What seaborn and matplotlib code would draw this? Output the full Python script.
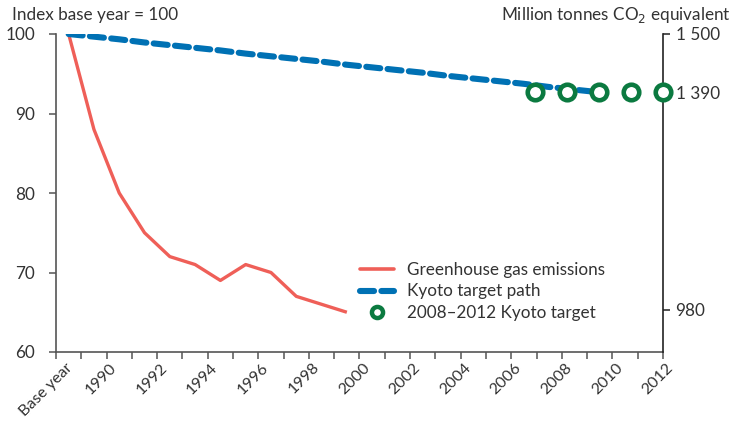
import numpy as np
import pandas as pd
import matplotlib
matplotlib.use("Agg")
import matplotlib.pyplot as plt
import matplotlib.transforms as mtransforms
from matplotlib.lines import Line2D
import seaborn as sns

# categories on the main x axis (one slot per year)
categories = ["Base year"] + [str(y) for y in range(1990, 2013)]
tick_labels = ["Base year"] + [str(y) for y in range(1990, 2013, 2)]

# greenhouse gas emissions, index base year = 100 (Base year .. 2000)
emissions = [100, 88, 80, 75, 72, 71, 69, 71, 70, 67, 66, 65]

# Kyoto target path, million tonnes CO2 equivalent (Base year .. 2010)
kyoto_path = [1500, 1495, 1490, 1484, 1479, 1474, 1469, 1463, 1458, 1453, 1448,
              1442, 1437, 1432, 1427, 1421, 1416, 1411, 1406, 1400, 1395, 1390]

# 2008-2012 Kyoto target
target_years = [2008, 2009, 2010, 2011, 2012]
target_values = [1390, 1390, 1390, 1390, 1390]

right_ticks = [980, 1390, 1500]
right_labels = ["980", "1 390", "1 500"]

RED = "#EF5F58"
BLUE = "#0071B4"
GREEN = "#0B7A40"
TXT = "#333333"
FS = 12.3

sns.set_theme(style="ticks")
plt.rcParams["font.family"] = ["Lato", "DejaVu Sans"]
plt.rcParams["text.color"] = TXT

df_em = pd.DataFrame({"pos": np.arange(len(emissions)), "value": emissions})
df_ky = pd.DataFrame({"pos": np.arange(len(kyoto_path)), "value": kyoto_path})
df_tg = pd.DataFrame({"year": target_years, "value": target_values})

fig = plt.figure(figsize=(7.39, 4.21), dpi=100)
ax = fig.add_axes([56 / 739, 1 - 352 / 421, 607 / 739, 318 / 421])
ax2 = ax.twinx()
ax3 = ax2.twiny()

sns.lineplot(data=df_em, x="pos", y="value", ax=ax, color=RED, linewidth=2.4,
             solid_capstyle="butt", legend=False)
ax.set_xlim(-0.5, len(categories) - 0.5)
ax.set_ylim(60, 100)
ax.set_yticks([60, 70, 80, 90, 100])
ax.set_xticks(np.arange(-0.5, len(categories), 1))
ax.set_xticklabels([tick_labels[i // 2] if i % 2 == 0 else ""
                    for i in range(len(categories) + 1)],
                   rotation=45, ha="right", rotation_mode="anchor")
ax.set_xlabel("")
ax.set_ylabel("")

sns.lineplot(data=df_ky, x="pos", y="value", ax=ax2, color=BLUE, linewidth=4.4,
             legend=False)
ax2.lines[0].set_dashes([2.3, 1.2])
ax2.lines[0].set_dash_capstyle("round")
ax2.set_xlim(-0.5, len(categories) - 0.5)
ax2.set_ylim(900, 1500)
ax2.set_yticks(right_ticks)
ax2.set_yticklabels(right_labels)
ax2.set_ylabel("")

sns.scatterplot(data=df_tg, x="year", y="value", ax=ax3, marker="o", s=125,
                facecolor="white", edgecolor=GREEN, linewidth=3.3, zorder=5,
                clip_on=False, legend=False)
ax3.set_xlim(1993, 2012)
ax3.set_ylim(900, 1500)
ax3.set_xticks([])
ax3.set_xlabel("")

for a in (ax, ax2, ax3):
    for s in a.spines.values():
        s.set_visible(False)
ax.spines["left"].set_visible(True)
ax.spines["bottom"].set_visible(True)
ax2.spines["right"].set_visible(True)
for s in ("left", "bottom"):
    ax.spines[s].set_color("#555555")
    ax.spines[s].set_linewidth(1.2)
ax2.spines["right"].set_color("#222222")
ax2.spines["right"].set_linewidth(1.2)

ax.tick_params(axis="both", labelsize=FS, colors="#555555", labelcolor=TXT,
               length=5, width=1.1, pad=4)
ax.tick_params(axis="x", labelsize=11.5, pad=1)
ax.tick_params(axis="y", pad=10)
ax2.tick_params(axis="y", labelsize=FS, colors="#222222", labelcolor=TXT,
                length=5, width=1.1, pad=4)

# nudge the rotated year labels a little to the right, "Base year" a bit more
for lab in ax.get_xticklabels():
    dx = 9 if lab.get_text() == "Base year" else 3
    lab.set_transform(lab.get_transform() +
                      mtransforms.ScaledTranslation(dx / 100, 0, fig.dpi_scale_trans))

handles = [
    Line2D([], [], color=RED, linewidth=2.6, label="Greenhouse gas emissions"),
    Line2D([], [], color=BLUE, linewidth=4.4, dashes=[2.3, 1.2],
           dash_capstyle="round", label="Kyoto target path"),
    Line2D([], [], color=GREEN, marker="o", linestyle="none", markersize=8,
           markerfacecolor="white", markeredgewidth=3.2, label="2008\u20132012 Kyoto target"),
]
leg = ax3.legend(handles=handles, loc="upper left", bbox_to_anchor=(0.49, 0.305),
                 frameon=False, fontsize=FS, handlelength=2.0, handletextpad=0.75,
                 labelspacing=0.33, borderaxespad=0)
for t in leg.get_texts():
    t.set_color(TXT)

fig.text(12 / 739, 1 - 20 / 421, "Index base year = 100", fontsize=FS,
         color=TXT, ha="left", va="baseline")
fig.text(731 / 739, 1 - 20 / 421, "Million tonnes CO$_2$ equivalent", fontsize=FS,
         color=TXT, ha="right", va="baseline")

fig.savefig("out.png", dpi=100)
